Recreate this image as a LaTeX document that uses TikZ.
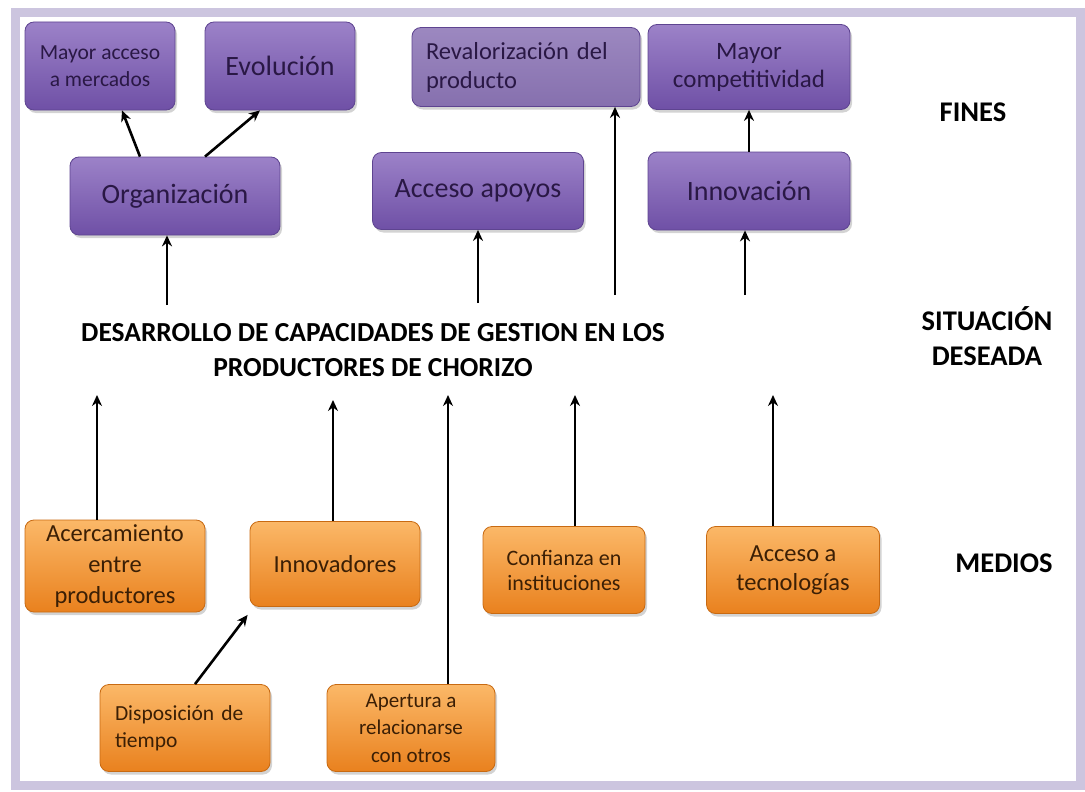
\documentclass[tikz,border=0pt]{standalone}
\usepackage{fontspec}
\setmainfont{Carlito}
\usepackage{tikz}
\usetikzlibrary{arrows.meta,positioning,calc,shadows}

\definecolor{purpTop}{HTML}{9C82C8}
\definecolor{purpBot}{HTML}{6F50A6}
\definecolor{purpEdge}{HTML}{5E4490}
\definecolor{purpText}{HTML}{2A1845}
\definecolor{revalTop}{HTML}{9C88C0}
\definecolor{revalBot}{HTML}{8670AE}
\definecolor{orgTop}{HTML}{FBB868}
\definecolor{orgBot}{HTML}{E9811E}
\definecolor{orgEdge}{HTML}{C86A12}
\definecolor{orgText}{HTML}{3B1F05}
\definecolor{frameLav}{HTML}{CCC5DF}

\begin{document}
\begin{tikzpicture}[x=1pt, y=-1pt]
    \tikzset{
        finbox/.style={draw=purpEdge, line width=0.8pt, top color=purpTop, bottom color=purpBot, rectangle, rounded corners=9pt, align=center, text=purpText, inner sep=2pt, drop shadow={shadow xshift=2pt, shadow yshift=-3pt, opacity=0.35}},
        medbox/.style={draw=orgEdge, line width=0.8pt, top color=orgTop, bottom color=orgBot, rectangle, rounded corners=9pt, align=center, text=orgText, inner sep=2pt, drop shadow={shadow xshift=2pt, shadow yshift=-3pt, opacity=0.35}},
        levellabel/.style={align=center, font=\fontsize{28.5}{35}\selectfont\bfseries},
        line/.style={draw, -{Stealth[length=11pt, width=10pt]}, line width=2.6pt}
    }
    \useasboundingbox (0,0) rectangle (1085,792);
    \draw [frameLav, line width=9pt] (15,13) rectangle (1080,785);

    % fines
    \node [finbox, minimum width=150pt, minimum height=88pt, font=\fontsize{21.5}{27}\selectfont] (mercados) at (100,66) {Mayor acceso\\a mercados};
    \node [finbox, minimum width=150pt, minimum height=88pt, font=\fontsize{28}{32}\selectfont] (evolucion) at (280,66) {Evoluci\'on};
    \node [finbox, top color=revalTop, bottom color=revalBot, minimum width=228pt, minimum height=79pt, text width=200pt, align=left, font=\fontsize{24.5}{29}\selectfont] (revalor) at (526,67) {Revalorizaci\'on del\\producto};
    \node [finbox, minimum width=202pt, minimum height=85pt, font=\fontsize{25}{28}\selectfont] (competit) at (749,67) {Mayor\\competitividad};
    \node [finbox, minimum width=210pt, minimum height=78pt, font=\fontsize{28}{32}\selectfont] (organiz) at (175,196) {Organizaci\'on};
    \node [finbox, minimum width=211pt, minimum height=77pt, font=\fontsize{28}{32}\selectfont] (apoyos) at (478,191) {Acceso apoyos};
    \node [finbox, minimum width=202pt, minimum height=78pt, font=\fontsize{28}{32}\selectfont] (innov) at (749,191) {Innovaci\'on};

    % situacion deseada
    \node [align=center, font=\fontsize{27.5}{35}\selectfont\bfseries] (objetivo) at (373,350) {DESARROLLO DE CAPACIDADES DE GESTION EN LOS\\PRODUCTORES DE CHORIZO};

    % medios
    \node [medbox, minimum width=180pt, minimum height=92pt, font=\fontsize{24.5}{31}\selectfont] (acerc) at (115,566) {Acercamiento\\entre\\productores};
    \node [medbox, minimum width=170pt, minimum height=85pt, font=\fontsize{24.5}{30}\selectfont] (innovad) at (335,564) {Innovadores};
    \node [medbox, minimum width=162pt, minimum height=87pt, font=\fontsize{22}{25}\selectfont] (confianza) at (564,570) {Confianza en\\instituciones};
    \node [medbox, minimum width=173pt, minimum height=87pt, font=\fontsize{24.5}{29}\selectfont] (tecno) at (793,570) {Acceso a\\tecnolog\'ias};
    \node [medbox, minimum width=170pt, minimum height=87pt, text width=140pt, align=left, font=\fontsize{21.5}{27}\selectfont] (disposic) at (185,728) {Disposici\'on de\\tiempo};
    \node [medbox, minimum width=168pt, minimum height=87pt, font=\fontsize{21}{27.5}\selectfont] (apertura) at (411,728) {Apertura a\\relacionarse\\con otros};

    % niveles
    \node [levellabel] (fines) at (973,112) {FINES};
    \node [levellabel] (deseada) at (987,336) {SITUACI\'ON\\DESEADA};
    \node [levellabel] (medios) at (1004,563) {MEDIOS};

    % arranques libres
    \coordinate (o1) at (167,305);
    \coordinate (o2) at (478,303);
    \coordinate (o3) at (615,295);
    \coordinate (o4) at (745,295);
    \coordinate (m1) at (97,395);
    \coordinate (m2) at (333,400);
    \coordinate (m3) at (448,395);
    \coordinate (m4) at (575,395);
    \coordinate (m5) at (773,395);

    \path [line] (o1) -- (o1 |- organiz.south);
    \path [line] (o2) -- (o2 |- apoyos.south);
    \path [line] (o3) -- (o3 |- revalor.south);
    \path [line] (o4) -- (o4 |- innov.south);
    \path [line] ([xshift=-35pt]organiz.north) -- ([xshift=22pt]mercados.south);
    \path [line] ([xshift=30pt]organiz.north) -- ([xshift=-20pt]evolucion.south);
    \path [line] (innov.north) -- (competit.south);

    \path [line] (m1 |- acerc.north) -- (m1);
    \path [line] (m2 |- innovad.north) -- (m2);
    \path [line] (m3 |- apertura.north) -- (m3);
    \path [line] (m4 |- confianza.north) -- (m4);
    \path [line] (m5 |- tecno.north) -- (m5);
    \path [line] ([xshift=10pt]disposic.north) -- ([xshift=-2pt, yshift=-8pt]innovad.south west);
\end{tikzpicture}
\end{document}
